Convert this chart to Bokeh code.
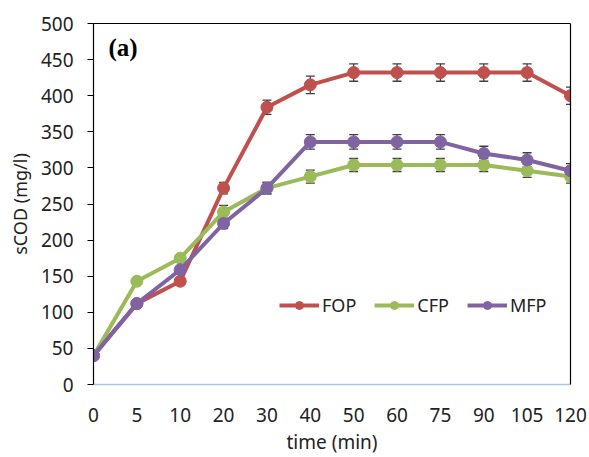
from bokeh.plotting import figure
from bokeh.models import (ColumnDataSource, Range1d, FixedTicker, LinearAxis, Whisker,
                          Legend, LegendItem, Label)
from bokeh.embed import file_html
from bokeh.resources import INLINE

# ---- data ----
time_labels = ["0", "5", "10", "20", "30", "40", "50", "60", "75", "90", "105", "120"]
fop = [40, 112, 143, 272, 384, 415, 432, 432, 432, 432, 432, 400]
cfp = [40, 143, 175, 239, 272, 288, 304, 304, 304, 304, 296, 288]
mfp = [40, 112, 159, 223, 272, 336, 336, 336, 336, 320, 311, 296]
fop_err = [2, 3, 4, 8, 10, 12, 12, 12, 12, 12, 12, 12]
cfp_err = [2, 3, 4, 9, 8, 9, 9, 9, 9, 9, 9, 9]
mfp_err = [2, 3, 4, 7, 8, 10, 10, 10, 10, 10, 10, 10]
y_ticks = [0, 50, 100, 150, 200, 250, 300, 350, 400, 450, 500]

series = [("FOP", fop, fop_err, "#c0504d"),
          ("CFP", cfp, cfp_err, "#9bbb59"),
          ("MFP", mfp, mfp_err, "#8064a2")]

xs = list(range(len(time_labels)))
FONT = "Noto Sans"

p = figure(width=589, height=457, output_backend="svg", toolbar_location=None,
           x_range=Range1d(0, len(xs) - 1), y_range=Range1d(0, 500),
           min_border_left=93, min_border_right=19, min_border_top=23, min_border_bottom=73)
p.outline_line_color = None
p.grid.grid_line_color = None
p.background_fill_color = "white"

# x axis
p.xaxis.ticker = FixedTicker(ticks=xs)
p.xaxis.major_label_overrides = {i: lab for i, lab in enumerate(time_labels)}
p.xaxis.axis_line_color = "#a9c5e6"
p.xaxis.axis_line_width = 1.5
p.xaxis.major_tick_line_color = None
p.xaxis.minor_tick_line_color = None
p.xaxis.major_label_standoff = 17
p.xaxis.major_label_text_font = FONT
p.xaxis.major_label_text_font_size = "19px"
p.xaxis.major_label_text_color = "#222222"
p.xaxis.axis_label = "time (min)"
p.xaxis.axis_label_text_font = FONT
p.xaxis.axis_label_text_font_size = "19px"
p.xaxis.axis_label_text_font_style = "normal"
p.xaxis.axis_label_text_color = "#222222"
p.xaxis.axis_label_standoff = 4

# y axis
p.yaxis.ticker = FixedTicker(ticks=y_ticks)
p.yaxis.axis_line_color = "black"
p.yaxis.axis_line_width = 1.2
p.yaxis.major_tick_line_color = "black"
p.yaxis.major_tick_in = 0
p.yaxis.major_tick_out = 6
p.yaxis.minor_tick_line_color = None
p.yaxis.major_label_standoff = 14
p.yaxis.major_label_text_font = FONT
p.yaxis.major_label_text_font_size = "19px"
p.yaxis.major_label_text_color = "#222222"
p.yaxis.axis_label = "sCOD (mg/l)"
p.yaxis.axis_label_text_font = FONT
p.yaxis.axis_label_text_font_size = "18px"
p.yaxis.axis_label_text_font_style = "normal"
p.yaxis.axis_label_text_color = "#222222"
p.yaxis.axis_label_standoff = 6

# top and right borders
for side in ("right", "above"):
    ax = LinearAxis(ticker=FixedTicker(ticks=[]), major_label_text_font_size="0px",
                    axis_line_color="black", axis_line_width=1.2,
                    major_tick_line_color=None, minor_tick_line_color=None)
    p.add_layout(ax, side)

items = []
for name, vals, err, color in series:
    src = ColumnDataSource(dict(x=xs, y=vals,
                                lo=[v - e for v, e in zip(vals, err)],
                                hi=[v + e for v, e in zip(vals, err)]))
    w = Whisker(base="x", lower="lo", upper="hi", source=src,
                line_color="#404040", line_width=1.3)
    w.upper_head.size = 9
    w.lower_head.size = 9
    w.upper_head.line_color = "#404040"
    w.lower_head.line_color = "#404040"
    w.upper_head.line_width = 1.3
    w.lower_head.line_width = 1.3
    p.add_layout(w)
    ln = p.line("x", "y", source=src, line_color=color, line_width=4)
    sc = p.scatter("x", "y", source=src, size=12, fill_color=color, line_color=color)
    items.append(LegendItem(label=name, renderers=[ln, sc]))

legend = Legend(items=items, orientation="horizontal", location=(186, 67),
                glyph_width=40, glyph_height=20, label_standoff=3, spacing=18,
                padding=0, margin=0, border_line_color=None, background_fill_alpha=0,
                label_text_font=FONT, label_text_font_size="18px",
                label_text_color="#222222")
p.add_layout(legend, "center")

p.add_layout(Label(x=15, y=337, x_units="screen", y_units="screen", text="(a)",
                   text_font="Liberation Serif", text_font_style="bold",
                   text_font_size="25px", text_baseline="middle", text_color="black"))

open("out.html", "w").write(file_html(p, INLINE))
